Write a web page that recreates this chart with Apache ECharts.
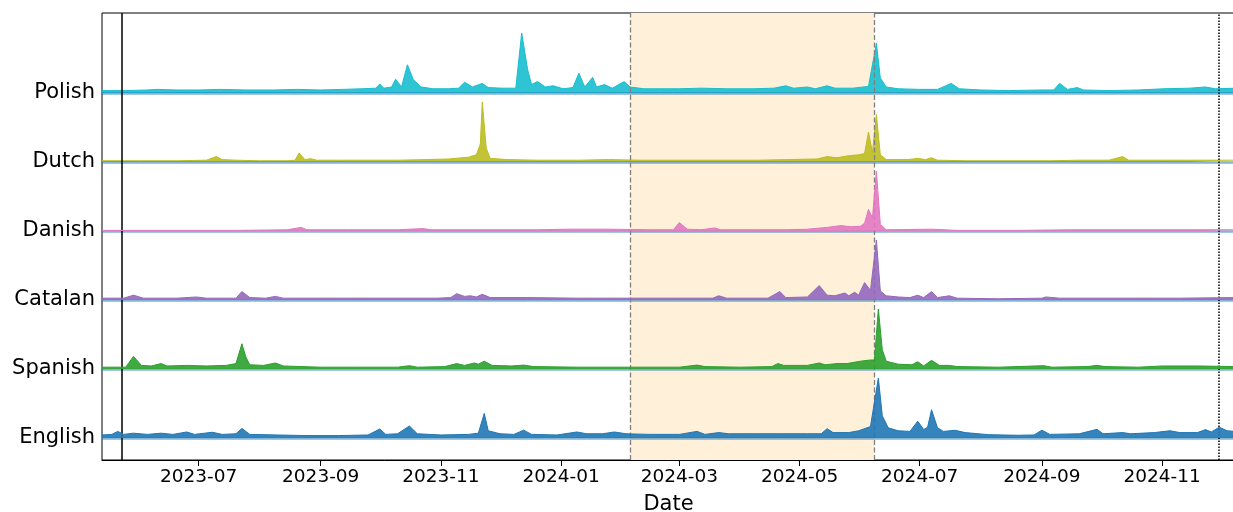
<!DOCTYPE html>
<html>
<head>
<meta charset="utf-8">
<script src="https://cdn.jsdelivr.net/npm/echarts@6/dist/echarts.min.js"></script>
<style>
  html, body { margin: 0; padding: 0; background: #ffffff; }
  #chart { width: 1233px; height: 512px; }
</style>
</head>
<body>
<div id="chart"></div>
<script>
// Ridgeline of daily relative search interest (0-100 per language), top to bottom.
const languages = ['Polish', 'Dutch', 'Danish', 'Catalan', 'Spanish', 'English'];
const colors = ['#17becf', '#bcbd22', '#e377c2', '#9467bd', '#2ca02c', '#1f77b4'];

const polish = [
  ['2023-05-13',4],['2023-05-25',4],['2023-06-05',5],['2023-06-10',6],['2023-06-20',5],['2023-07-01',5],
  ['2023-07-12',6],['2023-07-25',5],['2023-08-08',5],['2023-08-20',6],['2023-09-01',5],['2023-09-12',6],
  ['2023-09-22',7],['2023-09-29',8],['2023-10-01',15],['2023-10-03',8],['2023-10-07',10],['2023-10-09',23],
  ['2023-10-12',10],['2023-10-15',47],['2023-10-18',22],['2023-10-22',10],['2023-10-28',7],['2023-11-05',7],
  ['2023-11-10',8],['2023-11-13',18],['2023-11-17',10],['2023-11-22',16],['2023-11-25',9],['2023-12-02',8],
  ['2023-12-09',8],['2023-12-12',100],['2023-12-15',39],['2023-12-17',14],['2023-12-20',19],['2023-12-24',10],
  ['2023-12-28',12],['2024-01-02',7],['2024-01-07',9],['2024-01-10',33],['2024-01-13',10],['2024-01-17',26],
  ['2024-01-19',10],['2024-01-23',14],['2024-01-27',8],['2024-02-02',19],['2024-02-05',10],['2024-02-12',7],
  ['2024-02-20',7],['2024-03-01',7],['2024-03-12',8],['2024-03-25',7],['2024-04-08',7],['2024-04-18',8],
  ['2024-04-24',12],['2024-04-28',8],['2024-05-05',10],['2024-05-09',7],['2024-05-15',12],['2024-05-19',8],
  ['2024-05-28',8],['2024-06-05',11],['2024-06-09',83],['2024-06-11',25],['2024-06-14',10],['2024-06-20',7],
  ['2024-07-01',6],['2024-07-10',6],['2024-07-17',16],['2024-07-21',7],['2024-08-01',5],['2024-08-15',4],
  ['2024-09-01',5],['2024-09-07',5],['2024-09-10',16],['2024-09-14',6],['2024-09-19',9],['2024-09-22',5],
  ['2024-10-05',4],['2024-10-20',5],['2024-11-02',7],['2024-11-15',8],['2024-11-23',10],['2024-11-28',7],
  ['2024-12-08',8]
];

const dutch = [
  ['2023-05-13',2],['2023-06-01',2],['2023-06-20',2],['2023-07-05',3],['2023-07-10',9],['2023-07-13',4],
  ['2023-07-20',3],['2023-08-01',2],['2023-08-15',2],['2023-08-19',3],['2023-08-21',15],['2023-08-24',4],
  ['2023-08-27',5.5],['2023-08-30',3],['2023-09-10',3],['2023-09-25',3],['2023-10-10',3],['2023-10-25',4],
  ['2023-11-05',5],['2023-11-15',8],['2023-11-19',12],['2023-11-21',30],['2023-11-22',100],['2023-11-24',23],
  ['2023-11-26',6],['2023-12-05',4],['2023-12-20',3],['2024-01-10',3],['2024-01-25',4],['2024-02-10',3],
  ['2024-03-01',3],['2024-03-20',3],['2024-04-10',3],['2024-04-25',4],['2024-05-10',5],['2024-05-15',9],
  ['2024-05-20',7],['2024-05-25',10],['2024-05-31',12],['2024-06-03',14],['2024-06-05',50],['2024-06-07',16],
  ['2024-06-09',79],['2024-06-11',12],['2024-06-14',4],['2024-06-25',4],['2024-06-30',6],['2024-07-04',4],
  ['2024-07-07',7],['2024-07-10',3],['2024-07-25',2],['2024-08-15',2],['2024-09-01',2],['2024-09-02',4],
  ['2024-09-05',2],['2024-09-20',3],['2024-10-05',3],['2024-10-12',9],['2024-10-15',3],['2024-11-01',3],
  ['2024-11-15',3],['2024-12-08',3]
];

const danish = [
  ['2023-05-13',1],['2023-06-15',1],['2023-07-20',1],['2023-08-15',2],['2023-08-22',6],['2023-08-25',2],
  ['2023-09-15',2],['2023-10-10',2],['2023-10-23',4],['2023-10-27',2],['2023-11-20',2],['2023-12-20',2],
  ['2024-01-05',3],['2024-01-25',3],['2024-02-15',2],['2024-02-27',2],['2024-03-01',14],['2024-03-05',3],
  ['2024-03-12',2],['2024-03-19',5],['2024-03-22',2],['2024-04-10',2],['2024-04-25',2],['2024-05-05',3],
  ['2024-05-15',6],['2024-05-22',9],['2024-05-27',7],['2024-06-01',8],['2024-06-03',13],['2024-06-05',36],
  ['2024-06-07',22],['2024-06-09',100],['2024-06-11',11],['2024-06-14',2],['2024-07-07',3],['2024-07-20',1],
  ['2024-08-20',1],['2024-09-15',2],['2024-10-10',2],['2024-11-01',2],['2024-11-25',2],['2024-12-08',2]
];

const catalan = [
  ['2023-05-13',3],['2023-05-24',3],['2023-05-29',8],['2023-06-03',3],['2023-06-20',3],['2023-06-30',5],
  ['2023-07-05',3],['2023-07-20',3],['2023-07-23',14],['2023-07-27',4],['2023-08-04',3],['2023-08-09',6],
  ['2023-08-13',3],['2023-09-01',3],['2023-09-20',3],['2023-10-10',3],['2023-10-30',3],['2023-11-06',4],
  ['2023-11-09',10.5],['2023-11-13',6],['2023-11-16',7],['2023-11-19',5],['2023-11-22',9.5],['2023-11-26',4],
  ['2023-12-15',4],['2024-01-10',3],['2024-01-28',3],['2024-02-10',3],['2024-03-01',3],['2024-03-18',3],
  ['2024-03-21',7],['2024-03-25',3],['2024-04-15',3],['2024-04-21',14],['2024-04-24',4],['2024-05-05',5],
  ['2024-05-11',24],['2024-05-15',8],['2024-05-19',7],['2024-05-24',11.6],['2024-05-26',7],['2024-05-29',12.8],
  ['2024-05-31',8],['2024-06-03',29],['2024-06-06',16],['2024-06-07',16],['2024-06-09',100],['2024-06-11',15],
  ['2024-06-14',7],['2024-06-20',5],['2024-06-26',4],['2024-06-30',8],['2024-07-03',4],['2024-07-07',14],
  ['2024-07-10',4],['2024-07-16',7],['2024-07-20',3],['2024-08-10',2],['2024-09-01',3],['2024-09-03',5],
  ['2024-09-10',3],['2024-10-01',3],['2024-10-20',3],['2024-11-10',3],['2024-12-08',4]
];

const spanish = [
  ['2023-05-13',3],['2023-05-25',3],['2023-05-29',21],['2023-06-02',6],['2023-06-07',5],['2023-06-12',9],
  ['2023-06-15',5],['2023-06-25',6],['2023-07-05',5],['2023-07-15',6],['2023-07-20',9],['2023-07-23',42],
  ['2023-07-25',20],['2023-07-27',7],['2023-08-03',6],['2023-08-09',10],['2023-08-13',5],['2023-09-01',3],
  ['2023-09-20',3],['2023-10-10',3],['2023-10-16',5.5],['2023-10-20',3],['2023-11-03',4],['2023-11-09',9],
  ['2023-11-13',6],['2023-11-18',10],['2023-11-20',8],['2023-11-23',13],['2023-11-27',6],['2023-12-07',5],
  ['2023-12-13',6.5],['2023-12-18',4],['2024-01-10',3],['2024-02-10',3],['2024-03-01',3],['2024-03-10',6.5],
  ['2024-03-14',4],['2024-04-01',3],['2024-04-17',4],['2024-04-20',9],['2024-04-23',6],['2024-05-05',6],
  ['2024-05-11',10],['2024-05-14',7],['2024-05-20',9],['2024-05-25',9],['2024-06-01',13],['2024-06-06',15],
  ['2024-06-08',15],['2024-06-10',100],['2024-06-12',32],['2024-06-14',13],['2024-06-20',8],['2024-06-27',7],
  ['2024-06-30',12],['2024-07-03',5],['2024-07-07',14.4],['2024-07-11',6],['2024-07-16',6],['2024-07-20',4],
  ['2024-08-10',3],['2024-09-02',5.5],['2024-09-06',3],['2024-09-24',4],['2024-09-29',6],['2024-10-03',4],
  ['2024-10-20',3],['2024-11-01',5],['2024-11-20',5],['2024-12-08',4]
];

const english = [
  ['2023-05-13',5],['2023-05-18',6],['2023-05-21',11],['2023-05-24',6],['2023-05-29',8],['2023-06-05',6],
  ['2023-06-12',8],['2023-06-18',6],['2023-06-25',10],['2023-06-29',6],['2023-07-08',9.5],['2023-07-13',6],
  ['2023-07-20',7],['2023-07-23',16],['2023-07-27',6],['2023-08-10',5],['2023-08-25',4],['2023-09-10',4],
  ['2023-09-25',5],['2023-10-01',15],['2023-10-04',6],['2023-10-10',7],['2023-10-16',20],['2023-10-20',7],
  ['2023-11-01',5],['2023-11-15',6],['2023-11-20',8],['2023-11-23',41],['2023-11-25',12],['2023-12-01',7],
  ['2023-12-08',6],['2023-12-13',13],['2023-12-17',6],['2023-12-30',5],['2024-01-09',10],['2024-01-14',7],
  ['2024-01-22',7],['2024-01-28',10],['2024-02-03',7],['2024-02-15',6],['2024-03-01',6],['2024-03-10',11],
  ['2024-03-14',6],['2024-03-21',9],['2024-03-26',7],['2024-04-10',7],['2024-04-20',7],['2024-05-05',7],
  ['2024-05-12',7],['2024-05-15',15.5],['2024-05-18',9],['2024-05-26',9],['2024-05-31',12],['2024-06-06',19],
  ['2024-06-10',100],['2024-06-12',37],['2024-06-15',17],['2024-06-20',12],['2024-06-26',11],['2024-06-30',28],
  ['2024-07-03',14],['2024-07-05',18],['2024-07-07',47],['2024-07-10',17],['2024-07-13',11],['2024-07-19',12.8],
  ['2024-07-24',9],['2024-08-05',5.5],['2024-08-20',4.5],['2024-08-28',5],['2024-09-01',13],['2024-09-05',6],
  ['2024-09-20',7],['2024-09-29',14.4],['2024-10-02',7],['2024-10-12',9],['2024-10-16',7],['2024-10-28',9],
  ['2024-11-05',12],['2024-11-10',9],['2024-11-19',9],['2024-11-23',14],['2024-11-26',10],['2024-11-30',18],
  ['2024-12-04',12],['2024-12-08',11]
];

const seriesValues = [polish, dutch, danish, catalan, spanish, english];

// Month ticks along the date axis
const tickMonths = ['2023-07', '2023-09', '2023-11', '2024-01', '2024-03', '2024-05', '2024-07', '2024-09', '2024-11'];

// Date window and reference dates
const dateRange = ['2023-05-13', '2024-12-08'];
const startLine = '2023-05-23';
const highlightWindow = ['2024-02-05', '2024-06-08'];
const endLine = '2024-11-30';

const BAND = 115; // vertical distance between ridge baselines, in value units
const toTime = (s) => new Date(s.length === 7 ? s + '-01T00:00:00' : s + 'T00:00:00').getTime();
const tickTimes = tickMonths.map(toTime);
const offsets = languages.map((_, i) => (languages.length - 1 - i) * BAND);

const FONT = 'DejaVu Sans';

const ridgeSeries = languages.map((name, i) => ({
  type: 'line',
  name: name,
  data: seriesValues[i].map(([d, v]) => [toTime(d), offsets[i] + v]),
  showSymbol: false,
  symbol: 'none',
  silent: true,
  z: 3 + i,
  lineStyle: { color: colors[i], width: 1 },
  areaStyle: { color: colors[i], opacity: 0.9, origin: offsets[i] },
  emphasis: { disabled: true }
}));

// Background layer: highlighted window and ridge baselines
const backgroundSeries = {
  type: 'line',
  data: [],
  z: 1,
  silent: true,
  markArea: {
    silent: true,
    itemStyle: { color: '#fef0d9' },
    data: [[{ xAxis: toTime(highlightWindow[0]) }, { xAxis: toTime(highlightWindow[1]) }]]
  },
  markLine: {
    silent: true,
    symbol: ['none', 'none'],
    label: { show: false },
    lineStyle: { color: 'rgba(31,119,180,0.55)', width: 2.5, type: 'solid' },
    data: offsets.map((o) => ({ yAxis: o }))
  }
};

// Foreground layer: vertical reference lines
const foregroundSeries = {
  type: 'line',
  data: [],
  z: 20,
  silent: true,
  markLine: {
    silent: true,
    symbol: ['none', 'none'],
    label: { show: false },
    data: [
      { xAxis: toTime(startLine), lineStyle: { color: '#000000', width: 1.5, type: 'solid' } },
      { xAxis: toTime(highlightWindow[0]), lineStyle: { color: '#808080', width: 1.3, type: [5, 2.5] } },
      { xAxis: toTime(highlightWindow[1]), lineStyle: { color: '#808080', width: 1.3, type: [5, 2.5] } },
      { xAxis: toTime(endLine), lineStyle: { color: '#000000', width: 1.5, type: [1.5, 1.5] } }
    ]
  }
};

const monthLabel = (v) => {
  const k = tickTimes.indexOf(v);
  if (k >= 0) return tickMonths[k];
  const d = new Date(v);
  return d.getFullYear() + '-' + String(d.getMonth() + 1).padStart(2, '0');
};

const chart = echarts.init(document.getElementById('chart'), null, { renderer: 'canvas' });
chart.setOption({
  animation: false,
  backgroundColor: '#ffffff',
  grid: {
    left: 102, right: -2, top: 13, bottom: 52,
    containLabel: false, outerBoundsMode: 'none',
    show: true, borderColor: '#000000', borderWidth: 1, backgroundColor: 'transparent'
  },
  xAxis: {
    type: 'value',
    min: toTime(dateRange[0]),
    max: toTime(dateRange[1]),
    name: 'Date',
    nameLocation: 'middle',
    nameGap: 34,
    nameTextStyle: { fontFamily: FONT, fontSize: 21, color: '#000000' },
    axisLine: { show: true, onZero: false, lineStyle: { color: '#000000', width: 1 } },
    axisTick: { show: true, length: 6, inside: false, customValues: tickTimes, lineStyle: { color: '#000000' } },
    axisLabel: {
      customValues: tickTimes,
      fontFamily: FONT, fontSize: 18.5, color: '#000000', margin: 8,
      formatter: monthLabel
    },
    splitLine: { show: false },
    minorTick: { show: false }
  },
  yAxis: {
    type: 'value',
    min: -36.7,
    max: 708.3,
    axisLine: { show: false },
    axisTick: { show: false, customValues: offsets },
    splitLine: { show: false },
    axisLabel: {
      customValues: offsets,
      fontFamily: FONT, fontSize: 21, color: '#000000', margin: 7,
      formatter: (v) => {
        const k = offsets.indexOf(v);
        return k >= 0 ? languages[k] : '';
      }
    }
  },
  series: [backgroundSeries, ...ridgeSeries, foregroundSeries]
});
</script>
</body>
</html>
